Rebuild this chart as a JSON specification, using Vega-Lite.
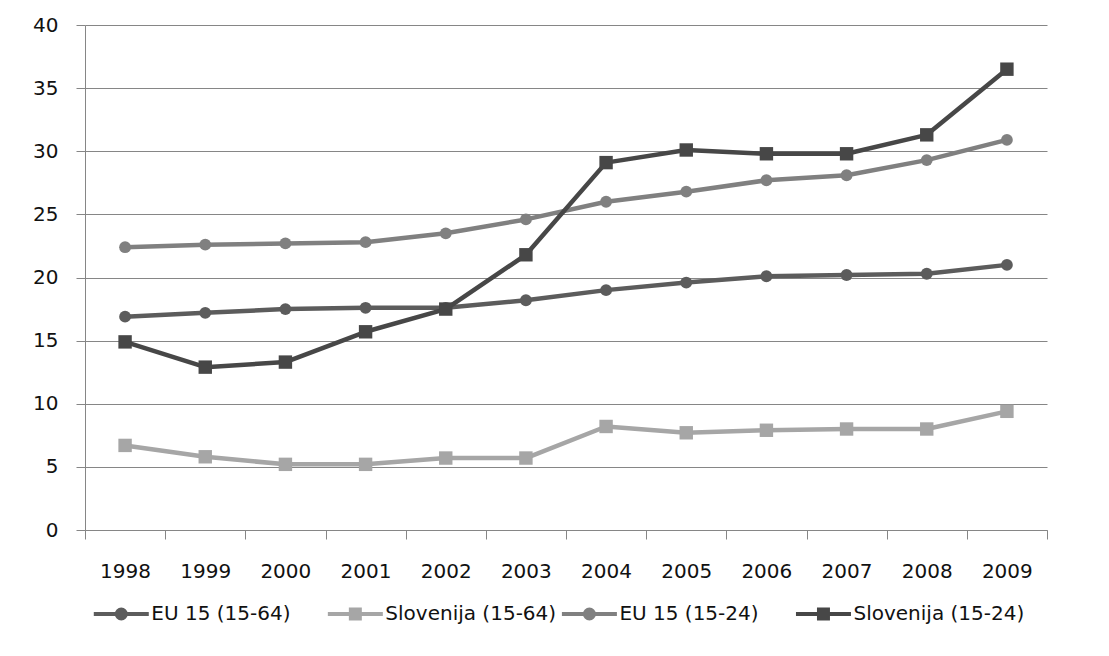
{
  "$schema": "https://vega.github.io/schema/vega-lite/v6.json",
  "padding": {"left": 25, "top": 15, "right": 5, "bottom": 5},
  "background": "white",
  "spacing": 18,
  "config": {
    "view": {"stroke": null},
    "font": "DejaVu Sans",
    "axis": {
      "labelFont": "DejaVu Sans",
      "labelFontSize": 20,
      "labelColor": "#111111",
      "domainColor": "#868686",
      "tickColor": "#868686",
      "gridColor": "#868686",
      "domainWidth": 1,
      "tickWidth": 1,
      "gridWidth": 1,
      "title": null
    }
  },
  "data": {
    "values": [
      {"year": 1998, "series": "EU 15 (15-64)", "value": 16.9},
      {"year": 1999, "series": "EU 15 (15-64)", "value": 17.2},
      {"year": 2000, "series": "EU 15 (15-64)", "value": 17.5},
      {"year": 2001, "series": "EU 15 (15-64)", "value": 17.6},
      {"year": 2002, "series": "EU 15 (15-64)", "value": 17.6},
      {"year": 2003, "series": "EU 15 (15-64)", "value": 18.2},
      {"year": 2004, "series": "EU 15 (15-64)", "value": 19.0},
      {"year": 2005, "series": "EU 15 (15-64)", "value": 19.6},
      {"year": 2006, "series": "EU 15 (15-64)", "value": 20.1},
      {"year": 2007, "series": "EU 15 (15-64)", "value": 20.2},
      {"year": 2008, "series": "EU 15 (15-64)", "value": 20.3},
      {"year": 2009, "series": "EU 15 (15-64)", "value": 21.0},
      {"year": 1998, "series": "Slovenija (15-64)", "value": 6.7},
      {"year": 1999, "series": "Slovenija (15-64)", "value": 5.8},
      {"year": 2000, "series": "Slovenija (15-64)", "value": 5.2},
      {"year": 2001, "series": "Slovenija (15-64)", "value": 5.2},
      {"year": 2002, "series": "Slovenija (15-64)", "value": 5.7},
      {"year": 2003, "series": "Slovenija (15-64)", "value": 5.7},
      {"year": 2004, "series": "Slovenija (15-64)", "value": 8.2},
      {"year": 2005, "series": "Slovenija (15-64)", "value": 7.7},
      {"year": 2006, "series": "Slovenija (15-64)", "value": 7.9},
      {"year": 2007, "series": "Slovenija (15-64)", "value": 8.0},
      {"year": 2008, "series": "Slovenija (15-64)", "value": 8.0},
      {"year": 2009, "series": "Slovenija (15-64)", "value": 9.4},
      {"year": 1998, "series": "EU 15 (15-24)", "value": 22.4},
      {"year": 1999, "series": "EU 15 (15-24)", "value": 22.6},
      {"year": 2000, "series": "EU 15 (15-24)", "value": 22.7},
      {"year": 2001, "series": "EU 15 (15-24)", "value": 22.8},
      {"year": 2002, "series": "EU 15 (15-24)", "value": 23.5},
      {"year": 2003, "series": "EU 15 (15-24)", "value": 24.6},
      {"year": 2004, "series": "EU 15 (15-24)", "value": 26.0},
      {"year": 2005, "series": "EU 15 (15-24)", "value": 26.8},
      {"year": 2006, "series": "EU 15 (15-24)", "value": 27.7},
      {"year": 2007, "series": "EU 15 (15-24)", "value": 28.1},
      {"year": 2008, "series": "EU 15 (15-24)", "value": 29.3},
      {"year": 2009, "series": "EU 15 (15-24)", "value": 30.9},
      {"year": 1998, "series": "Slovenija (15-24)", "value": 14.9},
      {"year": 1999, "series": "Slovenija (15-24)", "value": 12.9},
      {"year": 2000, "series": "Slovenija (15-24)", "value": 13.3},
      {"year": 2001, "series": "Slovenija (15-24)", "value": 15.7},
      {"year": 2002, "series": "Slovenija (15-24)", "value": 17.5},
      {"year": 2003, "series": "Slovenija (15-24)", "value": 21.8},
      {"year": 2004, "series": "Slovenija (15-24)", "value": 29.1},
      {"year": 2005, "series": "Slovenija (15-24)", "value": 30.1},
      {"year": 2006, "series": "Slovenija (15-24)", "value": 29.8},
      {"year": 2007, "series": "Slovenija (15-24)", "value": 29.8},
      {"year": 2008, "series": "Slovenija (15-24)", "value": 31.3},
      {"year": 2009, "series": "Slovenija (15-24)", "value": 36.5}
    ]
  },
  "resolve": {"scale": {"color": "independent", "x": "independent", "shape": "independent", "fill": "independent", "stroke": "independent"}},
  "vconcat": [
    {
      "width": 962,
      "height": 505,
      "encoding": {
        "x": {
          "field": "year",
          "type": "quantitative",
          "scale": {"domain": [1997.5, 2009.5], "nice": false, "zero": false},
          "axis": {
            "values": [1997.5, 1998.5, 1999.5, 2000.5, 2001.5, 2002.5, 2003.5, 2004.5, 2005.5, 2006.5, 2007.5, 2008.5, 2009.5],
            "labelExpr": "datum.value < 2009 ? format(datum.value + 0.5, 'd') : ''",
            "labelOffset": 40,
            "tickSize": 9,
            "labelPadding": 22,
            "grid": false,
            "labelFlush": false,
            "labelOverlap": false,
            "labelBound": false
          }
        },
        "y": {
          "field": "value",
          "type": "quantitative",
          "scale": {"domain": [0, 40], "nice": false},
          "axis": {
            "values": [0, 5, 10, 15, 20, 25, 30, 35, 40],
            "tickSize": 9,
            "labelPadding": 18,
            "minExtent": 60,
            "maxExtent": 60,
            "grid": true
          }
        }
      },
      "layer": [
        {
          "mark": {"type": "line", "strokeWidth": 4.5, "strokeJoin": "round"},
          "encoding": {
            "stroke": {"field": "series", "type": "nominal", "legend": null,
              "scale": {
                "domain": ["EU 15 (15-64)", "Slovenija (15-64)", "EU 15 (15-24)", "Slovenija (15-24)"],
                "range": ["#5c5c5c", "#a6a6a6", "#808080", "#474747"]
              }
            }
          }
        },
        {
          "transform": [{"filter": "indexof(datum.series, 'EU 15') === 0"}],
          "mark": {"type": "circle", "size": 140, "opacity": 1},
          "encoding": {
            "fill": {"field": "series", "type": "nominal", "legend": null,
              "scale": {
                "domain": ["EU 15 (15-64)", "Slovenija (15-64)", "EU 15 (15-24)", "Slovenija (15-24)"],
                "range": ["#5c5c5c", "#a6a6a6", "#808080", "#474747"]
              }
            }
          }
        },
        {
          "transform": [{"filter": "indexof(datum.series, 'Slovenija') === 0"}],
          "mark": {"type": "square", "size": 180, "opacity": 1},
          "encoding": {"fill": {"field": "series", "type": "nominal", "legend": null}}
        }
      ]
    },
    {
      "width": 962,
      "height": 30,
      "transform": [{"filter": "datum.year === 1998"}],
      "encoding": {
        "x": {
          "field": "series",
          "type": "nominal",
          "bandPosition": 0.1,
          "scale": {
            "type": "band",
            "domain": ["EU 15 (15-64)", "Slovenija (15-64)", "EU 15 (15-24)", "Slovenija (15-24)"],
            "paddingInner": 0,
            "paddingOuter": 0.055
          },
          "axis": null
        }
      },
      "layer": [
        {
          "mark": {"type": "point", "filled": true, "opacity": 1, "size": 3025, "strokeWidth": 0},
          "encoding": {
            "color": {
              "field": "series",
              "type": "nominal",
              "legend": null,
              "scale": {
                "domain": ["EU 15 (15-64)", "Slovenija (15-64)", "EU 15 (15-24)", "Slovenija (15-24)"],
                "range": ["#5c5c5c", "#a6a6a6", "#808080", "#474747"]
              }
            },
            "shape": {
              "field": "series",
              "type": "nominal",
              "legend": null,
              "scale": {
                "domain": ["EU 15 (15-64)", "Slovenija (15-64)", "EU 15 (15-24)", "Slovenija (15-24)"],
                "range": [
                  "M-1,-0.075H1V0.075H-1Z M0.236,0L0.218,0.09L0.167,0.167L0.09,0.218L0,0.236L-0.09,0.218L-0.167,0.167L-0.218,0.09L-0.236,0L-0.218,-0.09L-0.167,-0.167L-0.09,-0.218L0,-0.236L0.09,-0.218L0.167,-0.167L0.218,-0.09Z",
                  "M-1,-0.075H1V0.075H-1Z M-0.236,-0.236H0.236V0.236H-0.236Z",
                  "M-1,-0.075H1V0.075H-1Z M0.236,0L0.218,0.09L0.167,0.167L0.09,0.218L0,0.236L-0.09,0.218L-0.167,0.167L-0.218,0.09L-0.236,0L-0.218,-0.09L-0.167,-0.167L-0.09,-0.218L0,-0.236L0.09,-0.218L0.167,-0.167L0.218,-0.09Z",
                  "M-1,-0.075H1V0.075H-1Z M-0.236,-0.236H0.236V0.236H-0.236Z"
                ]
              }
            }
          }
        },
        {
          "mark": {"type": "text", "align": "left", "baseline": "middle", "dx": 30, "fontSize": 20, "font": "DejaVu Sans", "color": "#111111"},
          "encoding": {"text": {"field": "series", "type": "nominal"}}
        }
      ]
    }
  ]
}
